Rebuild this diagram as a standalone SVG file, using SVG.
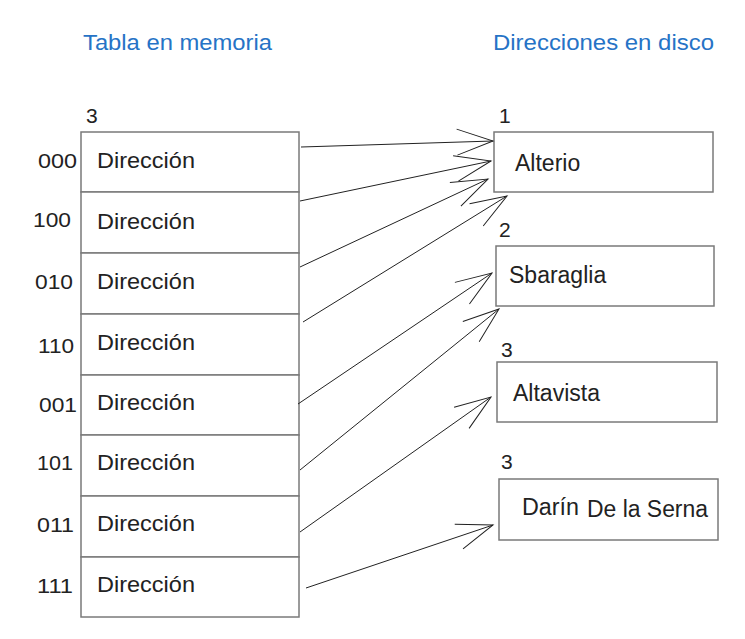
<svg xmlns="http://www.w3.org/2000/svg" width="745" height="639" viewBox="0 0 745 639">
<style>
.hdr{font-family:"Liberation Sans",Arial,sans-serif;font-size:22px;fill:#2673c6}
.t{font-family:"Liberation Sans",Arial,sans-serif;fill:#222}
.cell{fill:#fff;stroke:#7a7a7a;stroke-width:1.5}
.lbl{font-size:21px}
.dir{font-size:22px}
.big{font-size:23px}
.num{font-size:21px}
.con line{stroke:#222;stroke-width:1;fill:none}
</style>
<defs>
<marker id="ah" markerUnits="userSpaceOnUse" markerWidth="50" markerHeight="40" refX="0" refY="0" viewBox="-40 -20 50 40" orient="auto" overflow="visible">
<path d="M-36,-13 L0,0 L-36,13" fill="none" stroke="#222" stroke-width="1"/>
</marker>
</defs>
<rect width="745" height="639" fill="#fff"/>
<g id="headers">
<text class="hdr" x="83" y="50" textLength="189" lengthAdjust="spacingAndGlyphs">Tabla en memoria</text>
<text class="hdr" x="493" y="50" textLength="221" lengthAdjust="spacingAndGlyphs">Direcciones en disco</text>
</g>
<g id="table">
<text class="t num" x="86" y="123">3</text>
<g id="row000"><rect class="cell" x="81" y="132" width="218" height="60"/><text class="t lbl" x="38" y="168" textLength="39" lengthAdjust="spacingAndGlyphs">000</text><text class="t dir" x="97" y="168" textLength="98" lengthAdjust="spacingAndGlyphs">Dirección</text></g>
<g id="row100"><rect class="cell" x="81" y="192" width="218" height="61"/><text class="t lbl" x="33" y="227" textLength="38" lengthAdjust="spacingAndGlyphs">100</text><text class="t dir" x="97" y="229" textLength="98" lengthAdjust="spacingAndGlyphs">Dirección</text></g>
<g id="row010"><rect class="cell" x="81" y="253" width="218" height="61"/><text class="t lbl" x="35" y="289" textLength="38" lengthAdjust="spacingAndGlyphs">010</text><text class="t dir" x="97" y="289" textLength="98" lengthAdjust="spacingAndGlyphs">Dirección</text></g>
<g id="row110"><rect class="cell" x="81" y="314" width="218" height="61"/><text class="t lbl" x="38" y="353" textLength="36" lengthAdjust="spacingAndGlyphs">110</text><text class="t dir" x="97" y="350" textLength="98" lengthAdjust="spacingAndGlyphs">Dirección</text></g>
<g id="row001"><rect class="cell" x="81" y="375" width="218" height="60"/><text class="t lbl" x="39" y="412" textLength="38" lengthAdjust="spacingAndGlyphs">001</text><text class="t dir" x="97" y="410" textLength="98" lengthAdjust="spacingAndGlyphs">Dirección</text></g>
<g id="row101"><rect class="cell" x="81" y="435" width="218" height="61"/><text class="t lbl" x="37" y="470" textLength="36" lengthAdjust="spacingAndGlyphs">101</text><text class="t dir" x="97" y="470" textLength="98" lengthAdjust="spacingAndGlyphs">Dirección</text></g>
<g id="row011"><rect class="cell" x="81" y="496" width="218" height="61"/><text class="t lbl" x="37" y="532" textLength="37" lengthAdjust="spacingAndGlyphs">011</text><text class="t dir" x="97" y="531" textLength="98" lengthAdjust="spacingAndGlyphs">Dirección</text></g>
<g id="row111"><rect class="cell" x="81" y="557" width="218" height="60"/><text class="t lbl" x="37" y="593" textLength="36" lengthAdjust="spacingAndGlyphs">111</text><text class="t dir" x="97" y="592" textLength="98" lengthAdjust="spacingAndGlyphs">Dirección</text></g>
</g>
<g id="alterio"><text class="t num" x="499" y="123">1</text><rect class="cell" x="494" y="132" width="219" height="60"/><text class="t big" x="515" y="171">Alterio</text></g>
<g id="sbaraglia"><text class="t num" x="499" y="237">2</text><rect class="cell" x="496" y="246" width="218" height="60"/><text class="t big" x="509" y="283">Sbaraglia</text></g>
<g id="altavista"><text class="t num" x="501" y="357">3</text><rect class="cell" x="497" y="362" width="220" height="60"/><text class="t big" x="513" y="401">Altavista</text></g>
<g id="darin"><text class="t num" x="501" y="469">3</text><rect class="cell" x="499" y="479" width="219" height="61"/><text class="t big" x="522" y="515" textLength="57" lengthAdjust="spacingAndGlyphs">Darín</text><text class="t big" x="587" y="517" textLength="121" lengthAdjust="spacingAndGlyphs">De la Serna</text></g>
<g class="con" id="connectors">
<line x1="301" y1="147" x2="493" y2="141" marker-end="url(#ah)"/>
<line x1="300" y1="201" x2="491" y2="161" marker-end="url(#ah)"/>
<line x1="300" y1="267" x2="488" y2="179" marker-end="url(#ah)"/>
<line x1="303" y1="322" x2="507" y2="196" marker-end="url(#ah)"/>
<line x1="298" y1="404" x2="492" y2="273" marker-end="url(#ah)"/>
<line x1="300" y1="470" x2="499" y2="309" marker-end="url(#ah)"/>
<line x1="300" y1="532" x2="491" y2="397" marker-end="url(#ah)"/>
<line x1="306" y1="588" x2="493" y2="525" marker-end="url(#ah)"/>
</g>
</svg>
